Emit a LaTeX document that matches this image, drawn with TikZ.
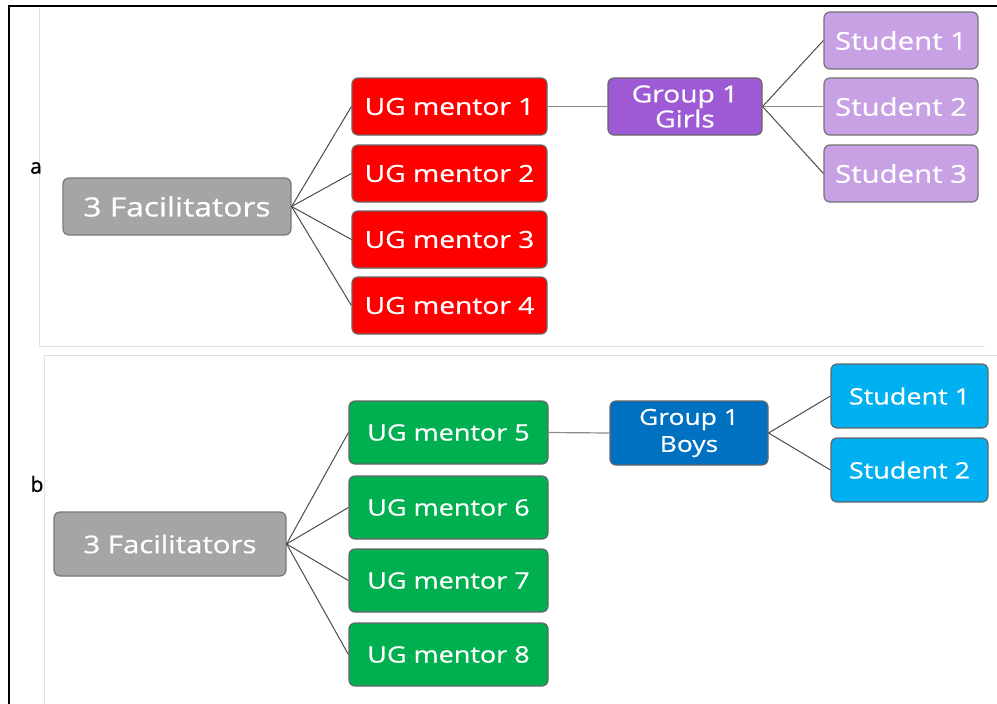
\documentclass[tikz,border=0pt]{standalone}
\usepackage{fontspec}
\setmainfont{Open Sans}[FakeStretch=1.2,FakeBold=0.6]
\newfontfamily\lblfont{Open Sans}[FakeBold=1]
\begin{document}
\begin{tikzpicture}[x=1pt,y=-1pt,
  box/.style={draw=#1, line width=1.2pt, rounded corners=6pt, inner sep=0pt, text=white, align=center, font=\fontsize{23.5}{26}\selectfont},
  fac/.style={box=gray!95!black, fill=facgray},
  conn/.style={draw=black!70, line width=1pt},
  hconn/.style={draw=black!45, line width=1.2pt},
  panel/.style={draw=black!12, line width=0.8pt}]
\definecolor{facgray}{HTML}{A5A5A5}
\definecolor{ugred}{HTML}{FF0000}
\definecolor{grppurple}{HTML}{9E5AD4}
\definecolor{stupurple}{HTML}{C8A0E4}
\definecolor{uggreen}{HTML}{00B050}
\definecolor{grpblue}{HTML}{0070C0}
\definecolor{stublue}{HTML}{00B0F0}
\useasboundingbox (0,0) rectangle (997,704);
\fill[white] (0,0) rectangle (997,704);
% panels
\draw[panel] (39,8) -- (39,346) -- (985,346);
\draw[panel] (44,704) -- (44,355) -- (997,355);
% outer frame
\draw[line width=2pt, black] (9,704) -- (9,6) -- (997,6);
% labels
\node[font=\lblfont\fontsize{21}{24}\selectfont] (la) at (36,168) {a};
\node[font=\lblfont\fontsize{21}{24}\selectfont] (lb) at (37,484) {b};
% panel a
\node[fac, minimum width=228pt, minimum height=57pt, font=\fontsize{26.5}{30}\selectfont] (fa) at (177,206.5) {3 Facilitators};
\foreach \n/\y in {1/106.5,2/173.5,3/239.5,4/305.5}{
  \node[box=black!60, fill=ugred, minimum width=195pt, minimum height=57pt] (m\n) at (449.5,\y) {UG mentor \n};
}
\node[box=black!60, fill=grppurple, minimum width=154pt, minimum height=57pt, font=\fontsize{23.5}{25}\selectfont] (ga) at (685,106.5) {Group 1\\Girls};
\foreach \n/\y in {1/40.5,2/106.5,3/173.5}{
  \node[box=black!55, fill=stupurple, minimum width=154pt, minimum height=57pt, font=\fontsize{24.5}{26}\selectfont] (sa\n) at (901,\y) {Student \n};
}
\foreach \n in {1,2,3,4}{ \draw[conn] (fa.east) -- (m\n.west); }
\draw[hconn] (m1.east) -- (ga.west);
\draw[conn] (ga.east) -- (sa1.west);
\draw[hconn] (ga.east) -- (sa2.west);
\draw[conn] (ga.east) -- (sa3.west);
% panel b
\node[fac, minimum width=232pt, minimum height=64pt, font=\fontsize{24.5}{28}\selectfont] (fb) at (170,544) {3 Facilitators};
\foreach \n/\y in {5/432.5,6/507.5,7/580.5,8/654.5}{
  \node[box=black!60, fill=uggreen, minimum width=199pt, minimum height=63pt, font=\fontsize{22.5}{26}\selectfont] (m\n) at (448.5,\y) {UG mentor \n};
}
\node[box=black!60, fill=grpblue, minimum width=158pt, minimum height=64pt, font=\fontsize{22}{27}\selectfont] (gb) at (689,433) {Group 1\\Boys};
\foreach \n/\y in {1/396,2/470}{
  \node[box=black!60, fill=stublue, minimum width=157pt, minimum height=64pt, font=\fontsize{22.5}{26}\selectfont] (sb\n) at (909.5,\y) {Student \n};
}
\foreach \n in {5,6,7,8}{ \draw[conn] (fb.east) -- (m\n.west); }
\draw[hconn] (m5.east) -- (gb.west);
\draw[conn] (gb.east) -- (sb1.west);
\draw[conn] (gb.east) -- (sb2.west);
\end{tikzpicture}
\end{document}
